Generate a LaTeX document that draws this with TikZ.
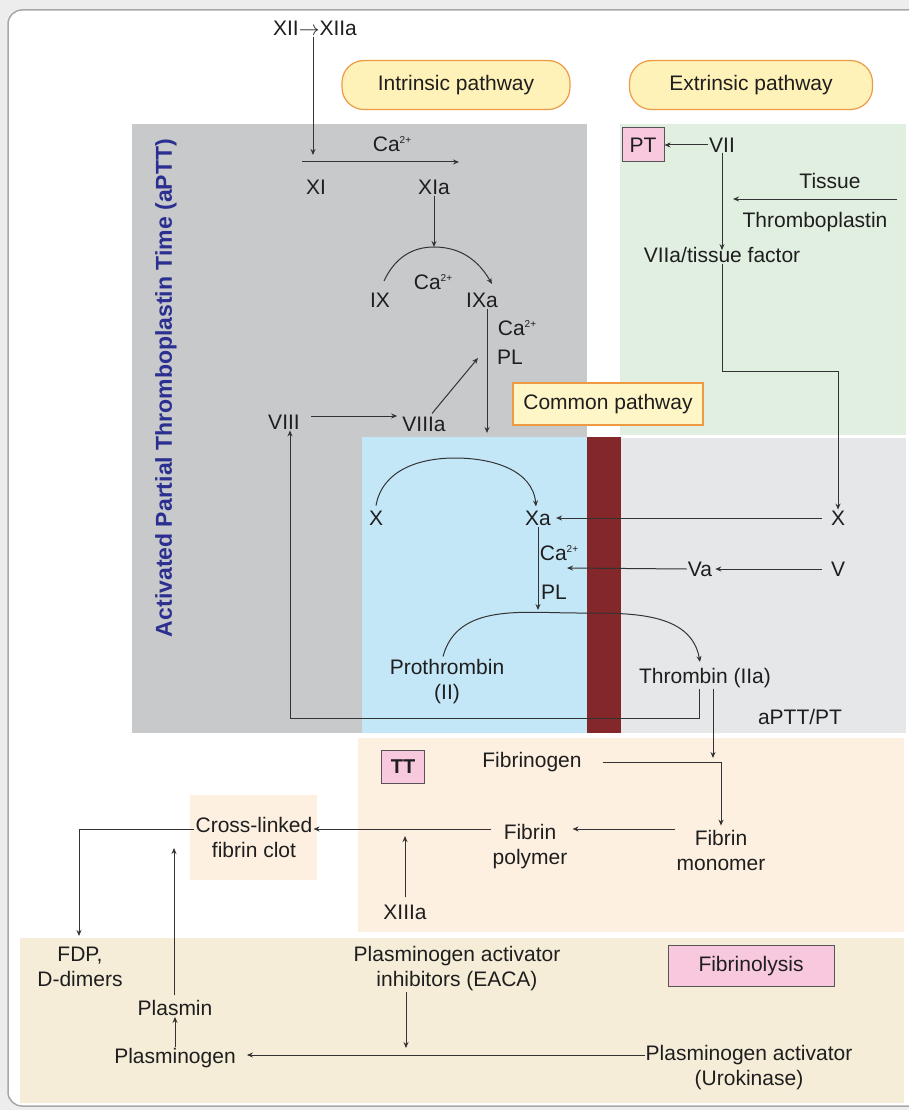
\documentclass[tikz,border=0pt]{standalone}
\usepackage{fontspec}
\setmainfont{Liberation Sans}
\usetikzlibrary{arrows.meta}
\definecolor{bgout}{HTML}{EDEDED}
\definecolor{framec}{HTML}{A8A8A8}
\definecolor{grayreg}{HTML}{C8C9CB}
\definecolor{bluereg}{HTML}{C4E7F8}
\definecolor{greenreg}{HTML}{E1EFE0}
\definecolor{lgrayreg}{HTML}{E6E7E9}
\definecolor{redbar}{HTML}{83272A}
\definecolor{peach}{HTML}{FDF0E1}
\definecolor{tanreg}{HTML}{F5EDD8}
\definecolor{pillfill}{HTML}{FFF2B8}
\definecolor{cpfill}{HTML}{FFF6C8}
\definecolor{orangeb}{HTML}{EE9A45}
\definecolor{pinkfill}{HTML}{F8C8DF}
\definecolor{boxb}{HTML}{555555}
\definecolor{navy}{HTML}{2B2F8F}
\definecolor{txt}{HTML}{1E1E1E}
\definecolor{lnc}{HTML}{333333}
\newcommand{\caion}{Ca\raisebox{0.75ex}{\fontsize{10}{10}\selectfont 2+}}
\begin{document}
\begin{tikzpicture}[x=1pt,y=-1pt,
  lbl/.style={font=\fontsize{21}{25}\selectfont, text=txt, inner sep=1pt, align=center},
  arr/.style={draw=lnc, line width=1pt, -{Stealth[length=6pt,width=5pt]}},
  pill/.style={lbl, draw=orangeb, fill=pillfill, line width=1.2pt, rounded corners=22pt, minimum height=49pt},
  cpbox/.style={lbl, draw=orangeb, fill=cpfill, line width=1.2pt, minimum width=190pt, minimum height=42pt},
  pinkbox/.style={lbl, draw=boxb, fill=pinkfill, line width=1pt},
  aptt/.style={font=\fontsize{23}{26}\selectfont\bfseries, text=navy, inner sep=0pt}]
\useasboundingbox (0,0) rectangle (909,1110);
\fill[bgout] (0,0) rectangle (909,1110);
\draw[framec, line width=1.5pt, fill=white, rounded corners=14pt] (8,10) rectangle (940,1106);
% regions
\fill[grayreg] (132,124) rectangle (587,733);
\fill[greenreg] (620,124) rectangle (906,435);
\fill[lgrayreg] (620,438) rectangle (906,733);
\fill[bluereg] (362,437) rectangle (587,733);
\fill[redbar] (587,437) rectangle (621,733);
\fill[peach] (358,738) rectangle (904,932);
\fill[peach] (190,795) rectangle (317,880);
\fill[tanreg] (20,938) rectangle (904,1103);
% headers
\node[lbl] (xii) at (315,28) {XII$\rightarrow$XIIa};
\node[pill, minimum width=228pt] (intr) at (456,85) {Intrinsic pathway};
\node[pill, minimum width=243pt] (extr) at (751,85) {Extrinsic pathway};
\node[aptt, rotate=90] (aptt) at (166,388) {Activated Partial Thromboplastin Time (aPTT)};
% intrinsic
\node[lbl] (xi) at (316,187) {XI};
\node[lbl] (xia) at (434,187) {XIa};
\node[lbl] (ca1) at (392,144) {\caion};
\coordinate (xiL) at (302,162);
\coordinate (xiR) at (459,162);
\coordinate (xiTop) at (313,155);
\draw[arr] (xii.south -| xiTop) -- (xiTop);
\draw[arr] (xiL) -- (xiR);
\node[lbl] (ix) at (380,300) {IX};
\node[lbl] (ixa) at (482,300) {IXa};
\node[lbl] (ca2) at (433,282) {\caion};
\coordinate (ixPeak) at (434,247);
\coordinate (ixS) at (384,281);
\coordinate (ixaE) at (492,284);
\draw[arr] (xia.south) -- (ixPeak);
\draw[arr] (ixS) to[out=65,in=180] (ixPeak) to[out=0,in=120] (ixaE);
\coordinate (ixaDown) at (487,433);
\draw[arr] (ixa.south -| ixaDown) -- (ixaDown);
\node[lbl] (ca3) at (517,328) {\caion};
\node[lbl] (pl1) at (510,357) {PL};
\node[lbl] (viii) at (284,422) {VIII};
\node[lbl] (viiia) at (424,424) {VIIIa};
\draw[arr, shorten <=10pt, shorten >=4pt] ([yshift=6pt]viii.east) -- ([yshift=8pt]viiia.west);
\coordinate (viiiaE) at (478,358);
\draw[arr] ([xshift=8pt,yshift=2pt]viiia.north) -- (viiiaE);
\node[cpbox] (cp) at (608,404) {Common pathway};
% extrinsic
\node[pinkbox, minimum width=42pt, minimum height=34pt] (pt) at (643,145) {PT};
\node[lbl] (vii) at (722,145) {VII};
\draw[arr] (vii.west) -- (pt.east);
\node[lbl] (tissue) at (830,181) {Tissue};
\node[lbl] (thrombo) at (815,222) {Thromboplastin};
\coordinate (tpR) at (897,199);
\coordinate (tpL) at (733,199);
\draw[arr] (tpR) -- (tpL);
\node[lbl] (viiatf) at (722,255) {VIIa/tissue factor};
\draw[arr, shorten >=-4pt] (vii.south) -- (viiatf.north);
% common
\node[lbl] (xl) at (376,518) {X};
\node[lbl] (xa) at (538,518) {Xa};
\node[lbl] (xr) at (838,518) {X};
\draw[arr] (viiatf.south) -- ++(0,108) -| (xr.north);
\coordinate (xPeak) at (455,458);
\draw[arr] ([yshift=4pt]xl.north) to[out=80,in=180] (xPeak) to[out=0,in=95] ([xshift=-2pt,yshift=3pt]xa.north);
\draw[arr, shorten <=8pt, shorten >=4pt] (xr.west) -- (xa.east);
\node[lbl] (ca4) at (559,553) {\caion};
\node[lbl] (pl2) at (554,592) {PL};
\coordinate (xaDown) at (538,610);
\draw[arr] (xa.south -| xaDown) -- (xaDown);
\node[lbl] (va) at (700,569) {Va};
\node[lbl] (vv) at (838,569) {V};
\draw[arr, shorten <=8pt, shorten >=2pt] (vv.west) -- (va.east);
\coordinate (vaEnd) at (567,568);
\draw[arr] (va.west) -- (vaEnd);
\node[lbl] (pro) at (447,682) {Prothrombin\\(II)};
\node[lbl] (thr) at (705,678) {Thrombin (IIa)};
\coordinate (prPeak) at (578,613);
\draw[arr] ([xshift=-4pt,yshift=2pt]pro.north) to[out=75,in=180] (prPeak) to[out=0,in=100] ([xshift=-5pt,yshift=5pt]thr.north);
\draw[arr] ([xshift=-6pt]thr.south) -- ++(0,30) -| ([xshift=6pt]viii.south);
\node[lbl] (apttpt) at (800,717) {aPTT/PT};
% TT
\node[pinkbox, font=\fontsize{20}{25}\selectfont\bfseries, minimum width=43pt, minimum height=33pt] (tt) at (403,767) {TT};
\node[lbl] (fgn) at (532,762) {Fibrinogen};
\node[lbl] (fmono) at (721,850) {Fibrin\\monomer};
\node[lbl] (fpoly) at (530,847) {Fibrin\\polymer};
\coordinate (thrEnd) at (713,758);
\draw[arr] (thr.south -| thrEnd) -- (thrEnd);
\draw[arr, shorten <=20pt] (fgn.east) -| ([yshift=3pt]fmono.north);
\draw[arr] ([yshift=21pt]fmono.west) -- ([yshift=18pt,xshift=4pt]fpoly.east);
\node[lbl] (cl) at (254,837) {Cross-linked\\fibrin clot};
\draw[arr] ([yshift=18pt]fpoly.west) -- ([yshift=8pt]cl.east);
\node[lbl] (xiiia) at (405,912) {XIIIa};
\coordinate (xiiiaEnd) at (405,836);
\draw[arr] ([yshift=6pt]xiiia.north) -- (xiiiaEnd);
% fibrinolysis
\node[lbl] (fdp) at (80,967) {FDP,\\D-dimers};
\draw[arr] ([yshift=8pt]cl.west) -| ([xshift=-1pt,yshift=10pt]fdp.north);
\node[lbl] (plasmin) at (175,1008) {Plasmin};
\node[lbl] (plg) at (175,1058) {Plasminogen};
\coordinate (plEnd) at (174,848);
\draw[arr] ([xshift=-1pt,yshift=4pt]plasmin.north) -- (plEnd);
\draw[arr] (plg.north) -- (plasmin.south);
\node[lbl] (pai) at (457,969) {Plasminogen activator\\inhibitors (EACA)};
\coordinate (paiEnd) at (406,1048);
\draw[arr] (pai.south -| paiEnd) -- (paiEnd);
\node[lbl] (pa) at (749,1068) {Plasminogen activator\\(Urokinase)};
\draw[arr] ([yshift=13pt]pa.west) -- ([xshift=10pt,yshift=3pt]plg.east);
\node[pinkbox, minimum width=166pt, minimum height=41pt] (fib) at (751,966) {Fibrinolysis};
\end{tikzpicture}
\end{document}
